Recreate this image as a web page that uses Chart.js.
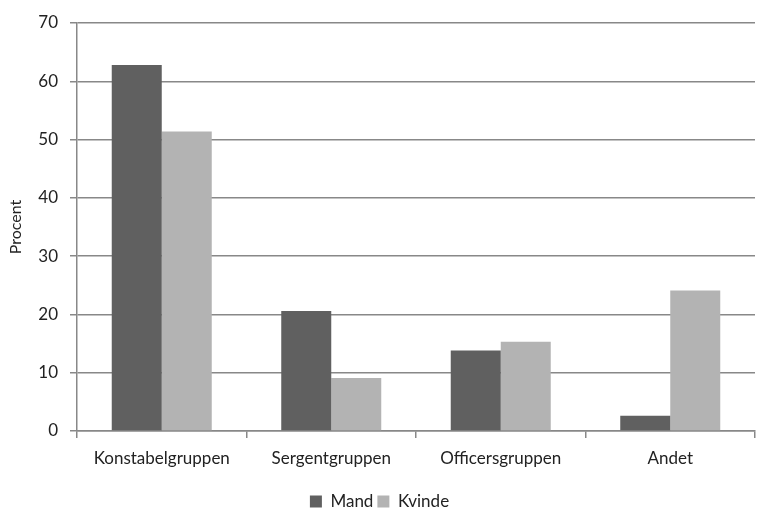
<!DOCTYPE html>
<html>
<head>
<meta charset="utf-8">
<script src="https://cdn.jsdelivr.net/npm/chart.js@4/dist/chart.umd.min.js"></script>
<style>
  html, body { margin: 0; padding: 0; background: #fff; }
  #wrap { width: 769px; height: 509px; }
</style>
</head>
<body>
<div id="wrap"><canvas id="c" width="769" height="509"></canvas></div>
<script>
const categories = ['Konstabelgruppen', 'Sergentgruppen', 'Officersgruppen', 'Andet'];
const mand = [62.8, 20.6, 13.8, 2.6];
const kvinde = [51.4, 9.1, 15.3, 24.1];
const yTicks = [0, 10, 20, 30, 40, 50, 60, 70];

const font = { family: 'Lato, "Open Sans", sans-serif', size: 17 };

// push the legend a little lower, as in the source
const legendShift = {
  id: 'legendShift',
  afterLayout(chart) {
    if (chart.legend) { chart.legend.top += 11; chart.legend.bottom += 11; }
  }
};

new Chart(document.getElementById('c'), {
  type: 'bar',
  data: {
    labels: categories,
    datasets: [
      { label: 'Mand', data: mand, backgroundColor: '#606060', categoryPercentage: 0.59, barPercentage: 1 },
      { label: 'Kvinde', data: kvinde, backgroundColor: '#b3b3b3', categoryPercentage: 0.59, barPercentage: 1 }
    ]
  },
  plugins: [legendShift],
  options: {
    responsive: false,
    animation: false,
    layout: { padding: { left: 4, right: 14, top: 23, bottom: 0 } },
    plugins: {
      tooltip: { enabled: false },
      legend: {
        position: 'bottom',
        labels: { boxWidth: 12, boxHeight: 12, color: '#222', font: font, padding: 4 }
      }
    },
    scales: {
      x: {
        afterFit: s => { s.height = 47; },
        grid: { offset: true, drawOnChartArea: false, color: '#888', lineWidth: 1.5, tickLength: 7 },
        border: { color: '#888', width: 1.5 },
        ticks: { color: '#222', font: font, padding: 10 }
      },
      y: {
        min: 0, max: 70,
        afterFit: s => { s.width = 73; },
        afterBuildTicks: s => { s.ticks = yTicks.map(v => ({ value: v })); },
        grid: { color: '#888', lineWidth: 1.5, tickLength: 7 },
        border: { color: '#888', width: 1.5 },
        ticks: { color: '#222', font: font, padding: 12 },
        title: { display: true, text: 'Procent', color: '#222', font: { family: font.family, size: 16 }, padding: 2 }
      }
    }
  }
});
</script>
</body>
</html>
